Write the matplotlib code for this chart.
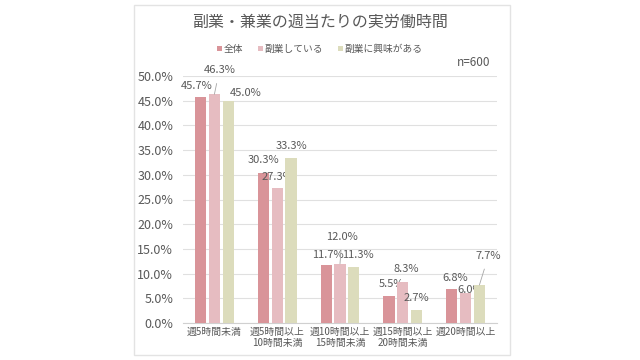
import numpy as np
import matplotlib.pyplot as plt
from matplotlib.patches import Rectangle
from matplotlib.ticker import FuncFormatter

plt.rcParams['font.family'] = ['Noto Sans CJK JP', 'DejaVu Sans']

# data
categories = ['週5時間未満', '週5時間以上\n10時間未満', '週10時間以上\n15時間未満',
              '週15時間以上\n20時間未満', '週20時間以上']
series_names = ['全体', '副業している', '副業に興味がある']
zentai = [45.7, 30.3, 11.7, 5.5, 6.8]
fukugyo = [46.3, 27.3, 12.0, 8.3, 6.0]
kyomi = [45.0, 33.3, 11.3, 2.7, 7.7]

colors = ['#d99499', '#e6bcc1', '#dcdcbc']
txt = '#595959'

# label offsets in pixels (dx, dy), and whether a leader line is drawn
label_off = [
    [(-4, 11), (0, 13), (2, 10), (2, 12), (3, 11)],
    [(5, 24), (0, 11), (2, 27), (3, 13), (5, 3)],
    [(17, 8), (0, 12), (4, 12), (0, 12), (9, 29)],
]
leaders = {(1, 0), (1, 2), (2, 4)}

fig = plt.figure(figsize=(6.4, 3.6), dpi=100)
fig.patches.append(Rectangle((134 / 640, 5 / 360), 376 / 640, 350 / 360,
                             transform=fig.transFigure, fill=False,
                             edgecolor='#e3e3e3', linewidth=1))
ax = fig.add_axes([183 / 640, 1 - 323 / 360, 314 / 640, 247 / 360])

x = np.arange(len(categories))
w = 0.18
step = 0.22
allvals = [zentai, fukugyo, kyomi]
for k, vals in enumerate(allvals):
    ax.bar(x + (k - 1) * step, vals, w, color=colors[k], label=series_names[k], zorder=3)
    for i, v in enumerate(vals):
        dx, dy = label_off[k][i]
        xb = x[i] + (k - 1) * step
        if (k, i) in leaders:
            ax.annotate(f'{v:.1f}%', xy=(xb, v), xytext=(dx, dy),
                        textcoords='offset pixels', ha='center', va='center',
                        fontsize=8, color=txt,
                        arrowprops=dict(arrowstyle='-', color='#a6a6a6', lw=0.6,
                                        shrinkA=4, shrinkB=0))
        else:
            ax.annotate(f'{v:.1f}%', xy=(xb, v), xytext=(dx, dy),
                        textcoords='offset pixels', ha='center', va='center',
                        fontsize=8, color=txt)

ax.set_ylim(0, 50)
ax.set_xlim(-0.5, 4.5)
ax.set_yticks(np.arange(0, 51, 5))
ax.yaxis.set_major_formatter(FuncFormatter(lambda v, p: f'{v:.1f}%'))
ax.set_xticks(x)
ax.set_xticklabels(categories, fontsize=7.1, color=txt, linespacing=1.1)
ax.tick_params(axis='y', labelsize=9, colors=txt, length=0, pad=7)
ax.tick_params(axis='x', length=0, pad=3)
ax.grid(axis='y', color='#e0e0e0', linewidth=0.8, zorder=0)
for s in ['top', 'right', 'left']:
    ax.spines[s].set_visible(False)
ax.spines['bottom'].set_color('#d0d0d0')

fig.text(0.5, 1 - 22 / 360, '副業・兼業の週当たりの実労働時間', ha='center', va='center',
         fontsize=11.5, color='#595959')
fig.text(490 / 640, 1 - 63 / 360, 'n=600', ha='right', va='center', fontsize=8.5, color=txt)
leg = fig.legend(loc='center', bbox_to_anchor=(0.5, 1 - 49 / 360), ncol=3, frameon=False,
                 fontsize=7, handlelength=0.5, handleheight=0.5, handletextpad=0.2,
                 columnspacing=1.5, labelcolor=txt)

fig.savefig('out.png', dpi=100)
